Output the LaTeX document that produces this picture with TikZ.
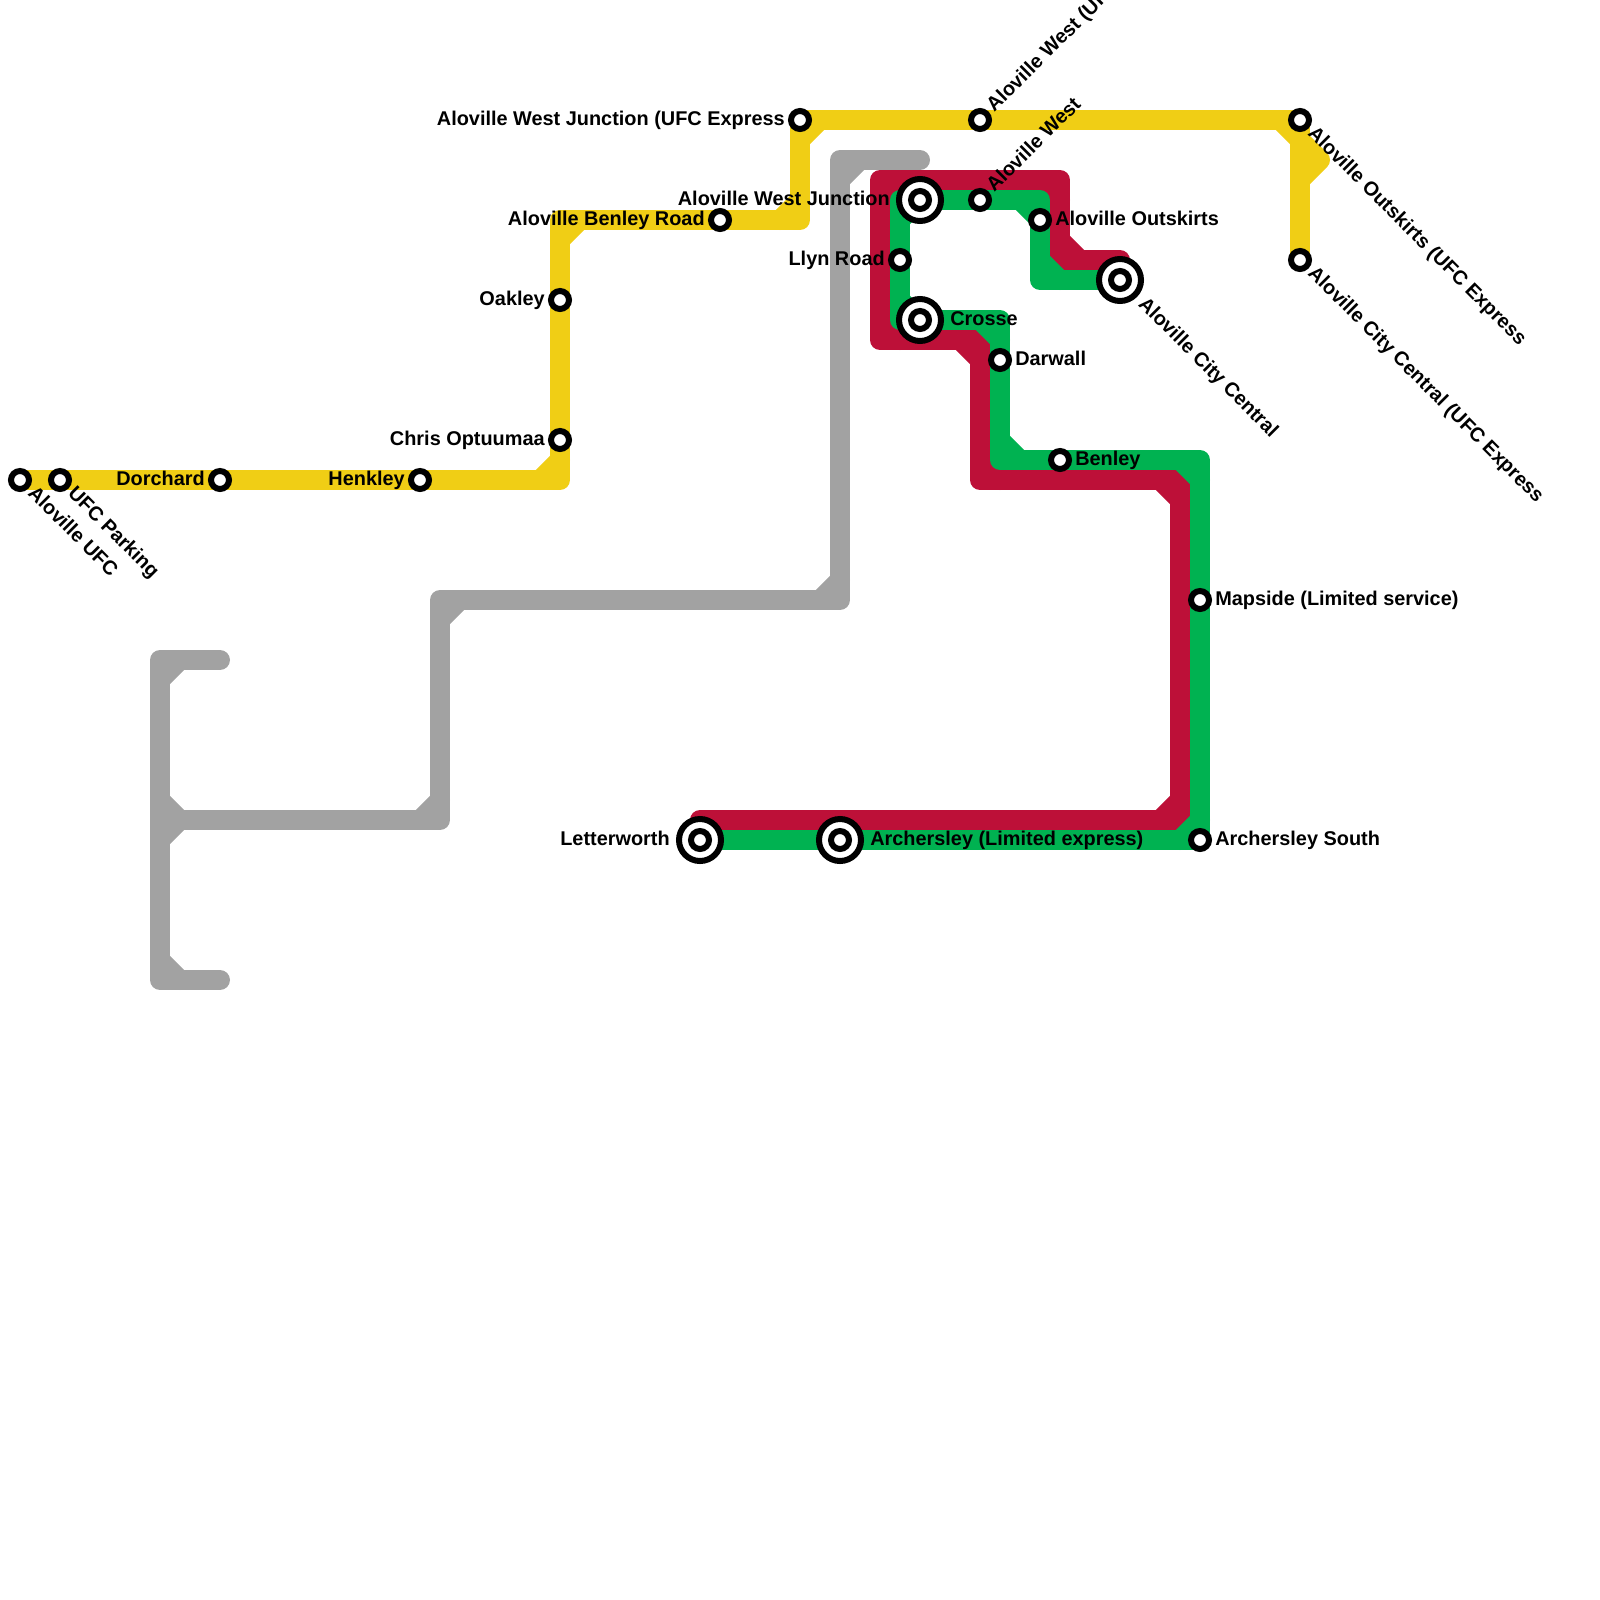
\documentclass[tikz,border=0pt]{standalone}
\usepackage{fontspec}
\setmainfont{Liberation Sans}
\usetikzlibrary{calc,backgrounds}
\definecolor{lineyellow}{HTML}{F0CE15}
\definecolor{linegrey}{HTML}{A2A2A2}
\definecolor{linered}{HTML}{BD1038}
\definecolor{linegreen}{HTML}{00B251}
\tikzset{
  track/.style={line width=0.5cm, line cap=round, line join=round},
  station/.style={circle, draw=black, fill=white, line width=0.15cm, minimum size=0.45cm, inner sep=0pt},
  hub/.style={circle, draw=black, fill=white, line width=0.15cm, minimum size=1.05cm, inner sep=0pt},
  lbl/.style={inner sep=0pt, font=\fontsize{14.15}{14.15}\selectfont\bfseries},
  lblright/.style={lbl, anchor=base west, xshift=#1, yshift=-0.13cm},
  lblright/.default=0.375cm,
  lblleft/.style={lbl, anchor=base east, xshift=-#1, yshift=-0.13cm},
  lblleft/.default=0.375cm,
  lblup/.style={lbl, anchor=base west, rotate=45, xshift=#1, yshift=-0.13cm},
  lblup/.default=0.375cm,
  lbldown/.style={lbl, anchor=base west, rotate=-45, xshift=#1, yshift=-0.13cm},
  lbldown/.default=0.375cm
}
\begin{document}
\begin{tikzpicture}[x=0.5cm, y=-0.5cm]
\useasboundingbox (0,0) rectangle (80,80);

% yellow stations
\node[station] (ufc) at (1,24) {};
\node[station] (parking) at (3,24) {};
\node[station] (dorchard) at (11,24) {};
\node[station] (henkley) at (21,24) {};
\node[station] (chris) at (28,22) {};
\node[station] (oakley) at (28,15) {};
\node[station] (benleyroad) at (36,11) {};
\node[station] (junctionex) at (40,6) {};
\node[station] (westex) at (49,6) {};
\node[station] (outskirtsex) at (65,6) {};
\node[station] (centralex) at (65,13) {};

% red and green stations
\node[hub] (junctionhub) at (46,10) {};
\node[station] (junction) at (46,10) {};
\node[station] (west) at (49,10) {};
\node[station] (outskirts) at (52,11) {};
\node[hub] (centralhub) at (56,14) {};
\node[station] (central) at (56,14) {};
\node[station] (llyn) at (45,13) {};
\node[hub] (crossehub) at (46,16) {};
\node[station] (crosse) at (46,16) {};
\node[station] (darwall) at (50,18) {};
\node[station] (benley) at (53,23) {};
\node[station] (mapside) at (60,30) {};
\node[station] (south) at (60,42) {};
\node[hub] (limitedhub) at (42,42) {};
\node[station] (limited) at (42,42) {};
\node[hub] (letterhub) at (35,42) {};
\node[station] (letter) at (35,42) {};

% labels
\node[lbldown] (ufclbl) at (ufc) {Aloville UFC};
\node[lbldown] (parkinglbl) at (parking) {UFC Parking};
\node[lblleft] (dorchardlbl) at (dorchard) {Dorchard};
\node[lblleft] (henkleylbl) at (henkley) {Henkley};
\node[lblleft] (chrislbl) at (chris) {Chris Optuumaa};
\node[lblleft] (oakleylbl) at (oakley) {Oakley};
\node[lblleft] (benleyroadlbl) at (benleyroad) {Aloville Benley Road};
\node[lblleft] (junctionexlbl) at (junctionex) {Aloville West Junction (UFC Express};
\node[lblup] (westexlbl) at (westex) {Aloville West (UFC Express};
\node[lbldown] (outskirtsexlbl) at (outskirtsex) {Aloville Outskirts (UFC Express};
\node[lbldown] (centralexlbl) at (centralex) {Aloville City Central (UFC Express};
\node[lblleft=0.75cm] (junctionlbl) at (junction) {Aloville West Junction};
\node[lblup] (westlbl) at (west) {Aloville West};
\node[lblright] (outskirtslbl) at (outskirts) {Aloville Outskirts};
\node[lbldown=0.75cm] (centrallbl) at (central) {Aloville City Central};
\node[lblleft] (llynlbl) at (llyn) {Llyn Road};
\node[lblright=0.75cm] (crosselbl) at (crosse) {Crosse};
\node[lblright] (darwalllbl) at (darwall) {Darwall};
\node[lblright] (benleylbl) at (benley) {Benley};
\node[lblright] (mapsidelbl) at (mapside) {Mapside (Limited service)};
\node[lblright] (southlbl) at (south) {Archersley South};
\node[lblright=0.75cm] (limitedlbl) at (limited) {Archersley (Limited express)};
\node[lblleft=0.75cm] (letterlbl) at (letter) {Letterworth};

% corners of the lines
\coordinate (y1) at (28,24);
\coordinate (y2) at (28,11);
\coordinate (y3) at (40,11);
\coordinate (y4) at (66,8);
\coordinate (y5) at (65,9);
\coordinate (g1) at (46,8);
\coordinate (g2) at (42,8);
\coordinate (g3) at (42,30);
\coordinate (g4) at (22,30);
\coordinate (g5) at (22,41);
\coordinate (g6) at (8,41);
\coordinate (g7) at (11,33);
\coordinate (g8) at (8,33);
\coordinate (g9) at (8,49);
\coordinate (g10) at (11,49);
\coordinate (r1) at (56,13);
\coordinate (r2) at (53,13);
\coordinate (r3) at (53,9);
\coordinate (r4) at (44,9);
\coordinate (r5) at (44,17);
\coordinate (r6) at (49,17);
\coordinate (r7) at (49,24);
\coordinate (r8) at (59,24);
\coordinate (r9) at (59,41);
\coordinate (r10) at (35,41);
\coordinate (n1) at (52,14);
\coordinate (n2) at (52,10);
\coordinate (n3) at (45,10);
\coordinate (n4) at (45,16);
\coordinate (n5) at (50,16);
\coordinate (n6) at (50,23);
\coordinate (n7) at (60,23);

\begin{pgfonlayer}{background}
% grey line
\draw[track, linegrey] (g1) -- (g2) -- (g3) -- (g4) -- (g5) -- (g6);
\draw[track, linegrey] (g7) -- (g8) -- (g9) -- (g10);
\foreach \c/\sx/\sy in {g2/1/1, g3/-1/-1, g4/1/1, g5/-1/-1, g6/1/-1, g6/1/1, g8/1/1, g9/1/-1}
  \draw[track, linegrey] ($(\c)+(\sx,0)$) -- ($(\c)+(0,\sy)$);

% yellow line
\draw[track, lineyellow] (ufc.center) -- (y1) -- (y2) -- (y3) -- (junctionex.center) -- (outskirtsex.center) -- (centralex.center);
\draw[track, lineyellow] ($(outskirtsex)+(-1,0)$) -- (y4) -- (y5);
\foreach \c/\sx/\sy in {y1/-1/-1, y2/1/1, y3/-1/-1, junctionex/1/1}
  \draw[track, lineyellow] ($(\c)+(\sx,0)$) -- ($(\c)+(0,\sy)$);

% red line
\draw[track, linered] (r1) -- (r2) -- (r3) -- (r4) -- (r5) -- (r6) -- (r7) -- (r8) -- (r9) -- (r10);
\foreach \c/\sx/\sy in {r2/1/-1, r3/-1/1, r4/1/1, r5/1/-1, r6/-1/1, r7/1/-1, r8/-1/1, r9/-1/-1}
  \draw[track, linered] ($(\c)+(\sx,0)$) -- ($(\c)+(0,\sy)$);

% green line
\draw[track, linegreen] (central.center) -- (n1) -- (n2) -- (n3) -- (n4) -- (n5) -- (n6) -- (n7) -- (south.center) -- (letter.center);
\foreach \c/\sx/\sy in {n1/1/-1, n2/-1/1, n3/1/1, n4/1/-1, n5/-1/1, n6/1/-1, n7/-1/1, south/-1/-1}
  \draw[track, linegreen] ($(\c)+(\sx,0)$) -- ($(\c)+(0,\sy)$);
\end{pgfonlayer}
\end{tikzpicture}
\end{document}
